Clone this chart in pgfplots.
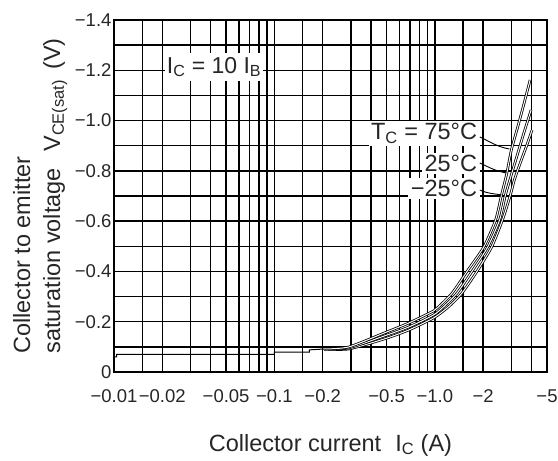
\documentclass[border=0pt]{standalone}
\usepackage{fontspec}
\setmainfont{Liberation Sans}
\usepackage{pgfplots}
\pgfplotsset{compat=1.18}
\begin{document}
\begin{tikzpicture}
\begin{axis}[
  scale only axis, width=433pt, height=352pt,
  xmode=log, xmin=0.01, xmax=5, ymin=0, ymax=1.4,
  xtick={0.01,0.02,0.05,0.1,0.2,0.5,1,2,5},
  xticklabels={−0.01,−0.02,−0.05,−0.1,−0.2,−0.5,−1.0,−2,−5},
  minor xtick={0.015,0.03,0.04,0.06,0.07,0.08,0.09,0.15,0.3,0.4,0.6,0.7,0.8,0.9,1.5,3,4},
  ytick={0,0.2,0.4,0.6,0.8,1.0,1.2,1.4},
  yticklabels={0,−0.2,−0.4,−0.6,−0.8,−1.0,−1.2,−1.4},
  minor ytick={0.1,0.3,0.5,0.7,0.9,1.1,1.3},
  grid=both,
  major grid style={black, line width=1.4pt},
  minor grid style={black, line width=1.4pt},
  axis line style={black, line width=1.4pt},
  major tick length=0pt, minor tick length=0pt,
  tick label style={font=\fontsize{18.5}{20}\selectfont, text=black!85},
  xticklabel style={yshift=-14pt},
  yticklabel style={xshift=1pt},
  xlabel={Collector current\hspace{14pt}I\textsubscript{C} (A)},
  ylabel={Collector to emitter\\saturation voltage\hspace{10pt} V\textsubscript{CE(sat)}\hspace{10pt}(V)},
  every axis x label/.style={at={(axis description cs:0.5,0)}, anchor=north, yshift=-62pt, inner sep=0pt, text=black!85, font=\fontsize{23.5}{28}\selectfont},
  every axis y label/.style={at={(axis description cs:-0.2333,0.5)}, anchor=north, rotate=90, inner sep=0pt, align=left, text=black!85, font=\fontsize{23.5}{30}\selectfont},
  clip=false,
]
% low-current staircase (common to all three curves)
\addplot[black, line width=1pt] coordinates {
(0.01,0.06)(0.0104,0.06)(0.0104,0.07)(0.1,0.07)(0.1,0.079)(0.165,0.079)(0.165,0.088)(0.2038,0.0915)};
% -25 C
\addplot[black, line width=0.8pt, double=white, double distance=1pt, smooth, tension=0.4] coordinates {
(0.2038,0.0915)(0.2902,0.0915)(0.4832,0.1313)(0.6881,0.1671)(0.9804,0.2148)(1.212,0.2586)(1.477,0.3142)(1.854,0.4057)(2.259,0.4972)(2.640,0.6046)(2.957,0.7041)(3.129,0.7637)(3.406,0.8313)(3.708,0.8950)(4.036,0.9626)};
% 25 C
\addplot[black, line width=0.8pt, double=white, double distance=1pt, smooth, tension=0.4] coordinates {
(0.2038,0.0915)(0.2902,0.0955)(0.4832,0.1432)(0.6881,0.1790)(0.9804,0.2267)(1.129,0.2586)(1.377,0.3142)(1.727,0.4057)(2.135,0.4972)(2.531,0.6046)(2.755,0.7041)(2.957,0.7717)(3.264,0.8632)(3.604,0.9547)(3.981,1.0422)};
% 75 C
\addplot[black, line width=0.8pt, double=white, double distance=1pt, smooth, tension=0.4] coordinates {
(0.2038,0.0915)(0.2902,0.0994)(0.4832,0.1551)(0.6881,0.1949)(0.9804,0.2426)(1.052,0.2586)(1.283,0.3142)(1.609,0.4057)(2.018,0.4972)(2.391,0.6046)(2.603,0.7041)(2.794,0.7836)(2.999,0.8831)(3.311,0.9825)(3.604,1.0700)(3.924,1.1615)};
% annotations
\node[fill=white, inner xsep=2pt, inner ysep=4pt, anchor=base west, text=black!85, font=\fontsize{23}{26}\selectfont] at (axis cs:0.0207,1.189) {I\textsubscript{C} = 10 I\textsubscript{B}};
\node[fill=white, inner sep=2.5pt, anchor=base east, text=black!85, font=\fontsize{23.5}{26}\selectfont] at (axis cs:1.907,0.923) {T\textsubscript{C} = 75°C};
\node[fill=white, inner sep=2.5pt, anchor=base east, text=black!85, font=\fontsize{23.5}{26}\selectfont] at (axis cs:1.907,0.7975) {25°C};
\node[fill=white, inner sep=2.5pt, anchor=base east, text=black!85, font=\fontsize{23.5}{26}\selectfont] at (axis cs:1.907,0.698) {−25°C};
\draw[line width=0.9pt] (axis cs:1.907,0.9348) to[out=-25,in=170] (axis cs:2.915,0.887);
\draw[line width=0.9pt] (axis cs:1.907,0.8313) to[out=-25,in=170] (axis cs:2.794,0.7916);
\draw[line width=0.9pt] (axis cs:1.907,0.724) to[out=-25,in=170] (axis cs:2.603,0.704);
\end{axis}
\pgfresetboundingbox
\path ([shift={(-114pt,-89pt)}]current axis.south west) rectangle ([shift={(11pt,20pt)}]current axis.north east);
\end{tikzpicture}
\end{document}
